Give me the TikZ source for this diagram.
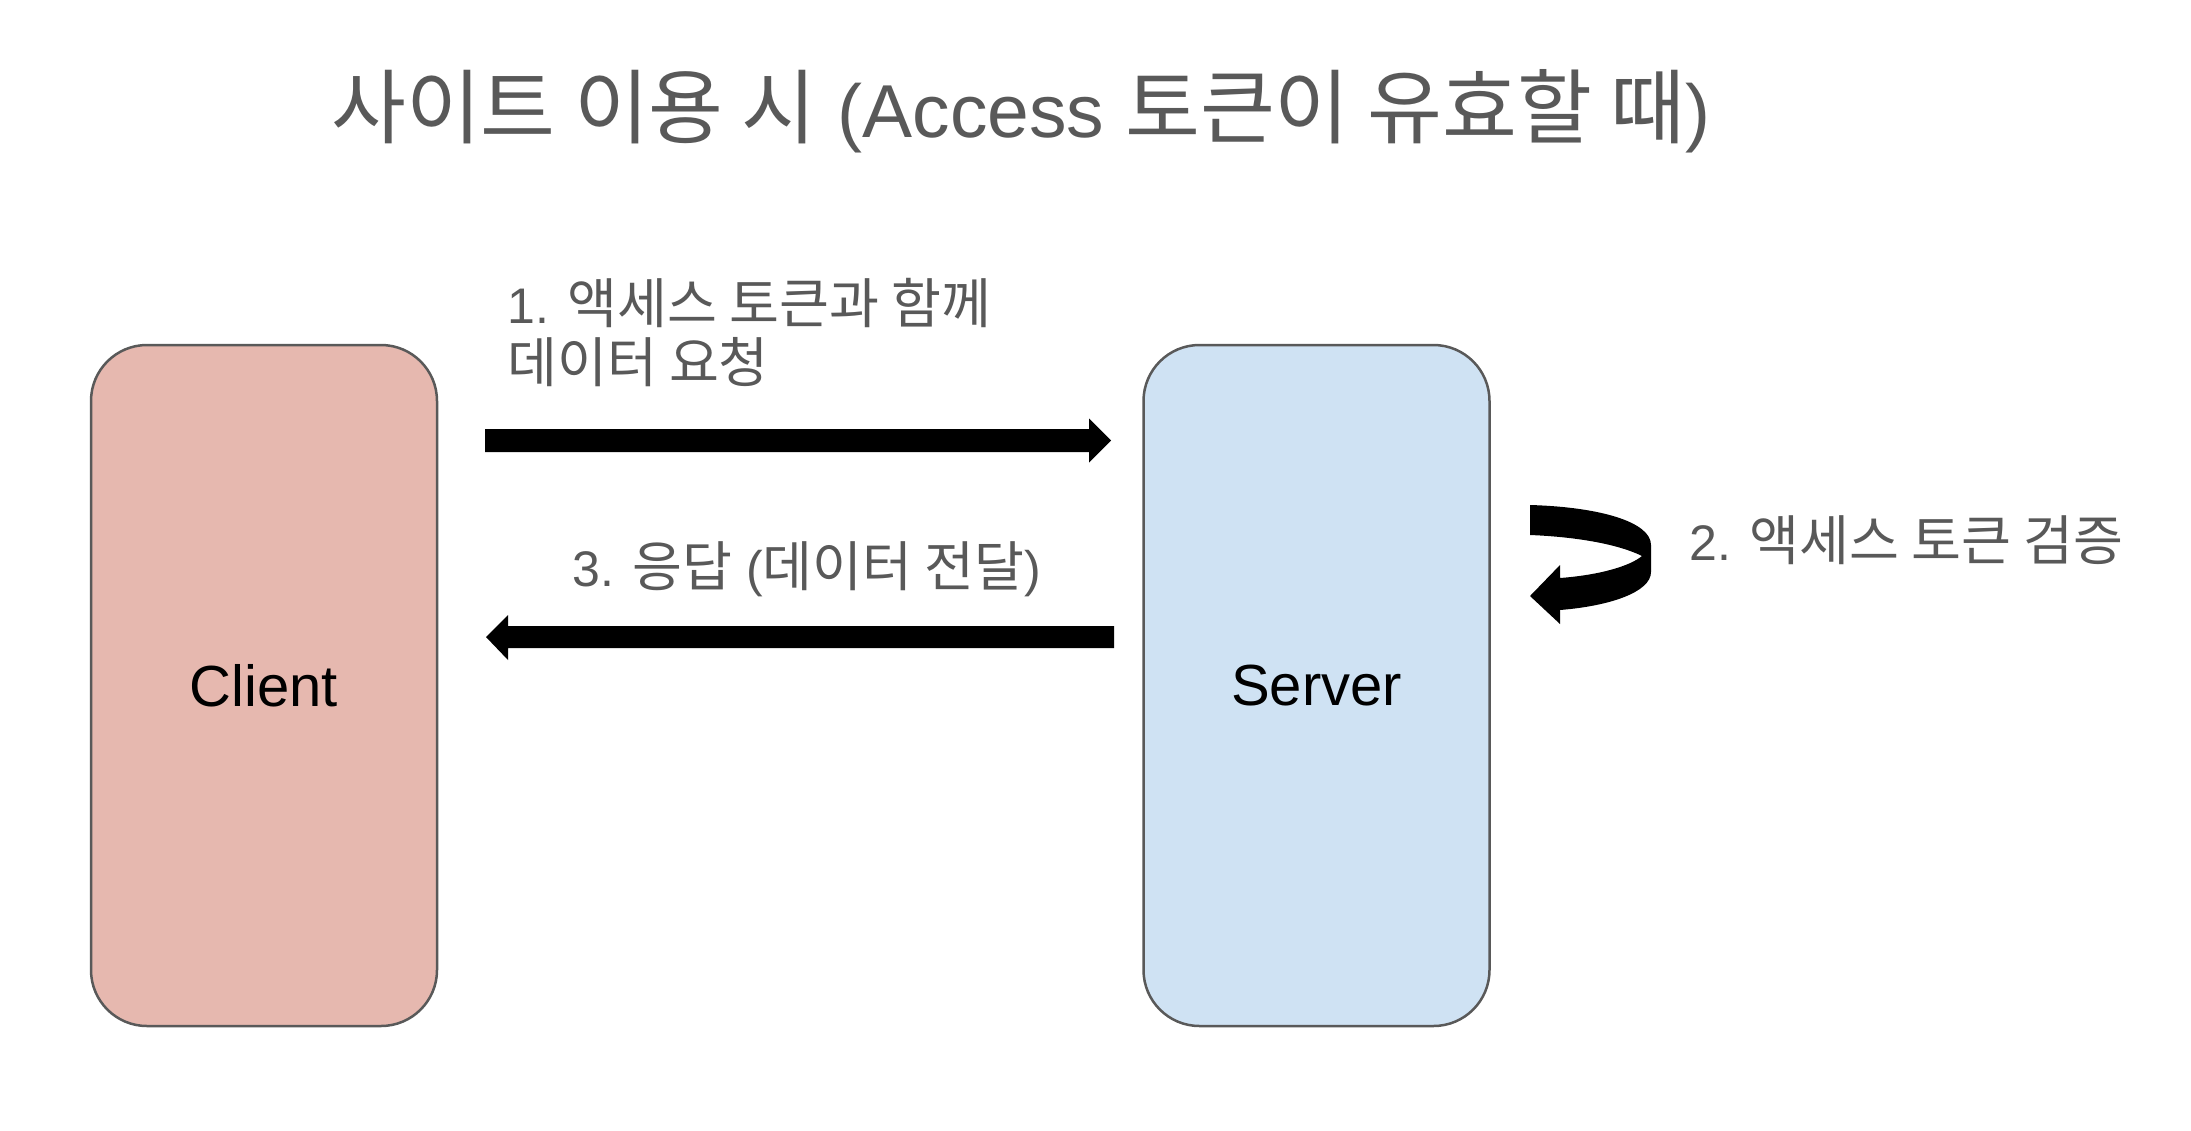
\documentclass[tikz,border=0pt]{standalone}
\usepackage{fontspec}
\setmainfont{Liberation Sans}
\newfontfamily\kr[Scale=1.085]{Noto Sans CJK KR}
\usetikzlibrary{calc}
\definecolor{txtgray}{HTML}{595959}
\definecolor{clientfill}{HTML}{E6B8AF}
\definecolor{serverfill}{HTML}{CFE2F3}
\tikzset{
  box/.style={draw=txtgray, line width=2.5pt, rounded corners=56pt,
    minimum width=346pt, minimum height=681pt, inner sep=0pt,
    font=\fontsize{58pt}{70pt}\selectfont, text=black},
  lbl/.style={anchor=base west, inner sep=0pt, text=txtgray,
    font=\fontsize{50pt}{59pt}\selectfont, align=left},
  ttl/.style={anchor=base west, inner sep=0pt, text=txtgray,
    font=\fontsize{75pt}{90pt}\selectfont},
  blockarrow/.style={fill=black}
}
\begin{document}
\begin{tikzpicture}[x=1pt,y=-1pt]
\useasboundingbox (0,0) rectangle (2191,1130);
\fill[white] (0,0) rectangle (2191,1130);

\node[ttl] (title) at (331,137) {{\kr 사이트 이용 시} (Access {\kr 토큰이 유효할 때})};

\node[box, fill=clientfill] (client) at (264,685.5) {Client};
\node[box, fill=serverfill] (server) at (1316.5,685.5) {Server};

\node[lbl] (l1) at (507,382) {1. {\kr 액세스 토큰과 함께}\\{\kr 데이터 요청}};
\node[lbl] (l3) at (572,586) {3. {\kr 응답} ({\kr 데이터 전달})};
\node[lbl] (l2) at (1689,560) {2. {\kr 액세스 토큰 검증}};

% request arrow
\coordinate (r1) at (485,440.5);
\fill[blockarrow] (r1) ++(0,-11.5) -- ++(604,0) -- ++(0,-10.5) -- ++(22,22)
  -- ++(-22,22) -- ++(0,-10.5) -- ++(-604,0) -- cycle;

% response arrow
\coordinate (r3) at (1114,637);
\fill[blockarrow] (r3) ++(0,-11) -- ++(-606,0) -- ++(0,-11) -- ++(-22,22)
  -- ++(22,23) -- ++(0,-12) -- ++(606,0) -- cycle;

% verification curved arrow
\coordinate (c0) at (1530,505);
\fill[blockarrow] (c0) .. controls (1600,507) and (1651,522) .. (1651,545)
  -- (1651,572) .. controls (1651,592) and (1610,606) .. (1560,610)
  -- (1560,624) -- (1530,596) -- (1560,565) -- (1560,578)
  .. controls (1600,575) and (1630,566) .. (1642,556)
  .. controls (1620,545) and (1580,537) .. (1530,535) -- cycle;
\end{tikzpicture}
\end{document}
